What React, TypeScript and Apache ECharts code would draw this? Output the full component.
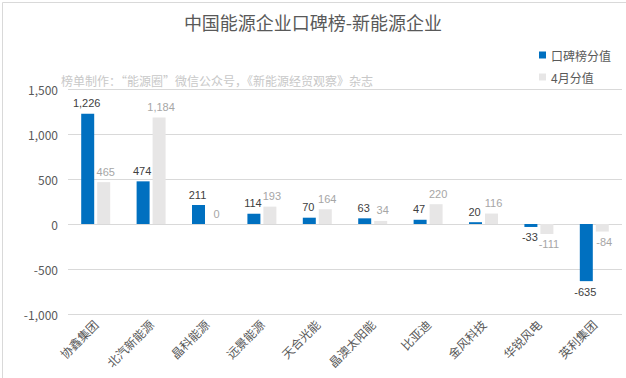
import React, { useEffect, useRef } from "react";
import * as echarts from "echarts";

const categories = ["协鑫集团", "北汽新能源", "晶科能源", "远景能源", "天合光能", "晶澳太阳能", "比亚迪", "金风科技", "华锐风电", "英利集团"];
const scoreValues = [1226, 474, 211, 114, 70, 63, 47, 20, -33, -635];
const aprilValues = [465, 1184, 0, 193, 164, 34, 220, 116, -111, -84];
const seriesNames = ["口碑榜分值", "4月分值"];
const titleText = "中国能源企业口碑榜-新能源企业";
const subtitleText = "榜单制作：“能源圈”微信公众号，《新能源经贸观察》杂志";

const fmt = (v: number) => v.toLocaleString("en-US");
const FONT = "'Noto Sans CJK SC', 'Noto Sans', sans-serif";
const NUMFONT = "'Liberation Sans', 'DejaVu Sans', sans-serif";

export default function App() {
  const ref = useRef<HTMLDivElement>(null);
  useEffect(() => {
    document.body.style.margin = "0";
    const chart = echarts.init(ref.current!, undefined, { renderer: "svg" });
    const mk = (vals: number[], color: string, dx: number) =>
      vals.map((v) => ({
        value: v,
        label: { position: v < 0 ? "bottom" : "top", color, offset: [dx, 0] },
      }));
    chart.setOption({
      animation: false,
      backgroundColor: "#ffffff",
      textStyle: { fontFamily: FONT },
      title: [
        {
          text: titleText,
          left: "center",
          top: 8,
          textStyle: { fontSize: 18, color: "#595959", fontWeight: "normal", fontFamily: FONT },
        },
        {
          text: subtitleText,
          left: 56,
          top: 69,
          textStyle: { fontSize: 12, color: "#C8C8C8", fontWeight: "normal", fontFamily: FONT },
        },
      ],
      legend: {
        orient: "vertical",
        right: 10,
        top: 44,
        itemGap: 10,
        itemWidth: 7,
        itemHeight: 7,
        icon: "rect",
        textStyle: { fontSize: 12, color: "#595959", fontFamily: FONT },
        data: seriesNames,
      },
      grid: { left: 68, right: 4, top: 89, bottom: 64, containLabel: false },
      xAxis: {
        type: "category",
        data: categories,
        axisLine: { show: false, onZero: false },
        axisTick: { show: false },
        axisLabel: { rotate: 45, fontSize: 12, color: "#595959", margin: 8, interval: 0 },
      },
      yAxis: {
        type: "value",
        min: -1000,
        max: 1500,
        interval: 500,
        axisLine: { show: false },
        axisTick: { show: false },
        splitLine: { lineStyle: { color: "#D9D9D9", width: 1 } },
        axisLabel: { fontSize: 12, color: "#595959", margin: 10, formatter: (v: number) => fmt(v) },
      },
      series: [
        {
          name: seriesNames[0],
          type: "bar",
          barWidth: 13,
          barGap: "23%",
          itemStyle: { color: "#0070C0" },
          label: { show: true, fontSize: 11, fontFamily: NUMFONT, distance: 5, formatter: (p: any) => fmt(p.value) },
          data: mk(scoreValues, "#404040", -1),
        },
        {
          name: seriesNames[1],
          type: "bar",
          barWidth: 13,
          itemStyle: { color: "#E7E6E6" },
          label: { show: true, fontSize: 11, fontFamily: NUMFONT, distance: 5, formatter: (p: any) => fmt(p.value) },
          data: mk(aprilValues, "#A6A6A6", 2),
        },
      ],
      graphic: [
        {
          type: "rect",
          left: 0,
          top: 0,
          shape: { x: 0.5, y: 0.5, width: 625, height: 377 },
          style: { fill: "none", stroke: "#D9D9D9", lineWidth: 1 },
          silent: true,
          z: 100,
        },
      ],
    });
    return () => chart.dispose();
  }, []);
  return <div ref={ref} style={{ width: 626, height: 378 }} />;
}
